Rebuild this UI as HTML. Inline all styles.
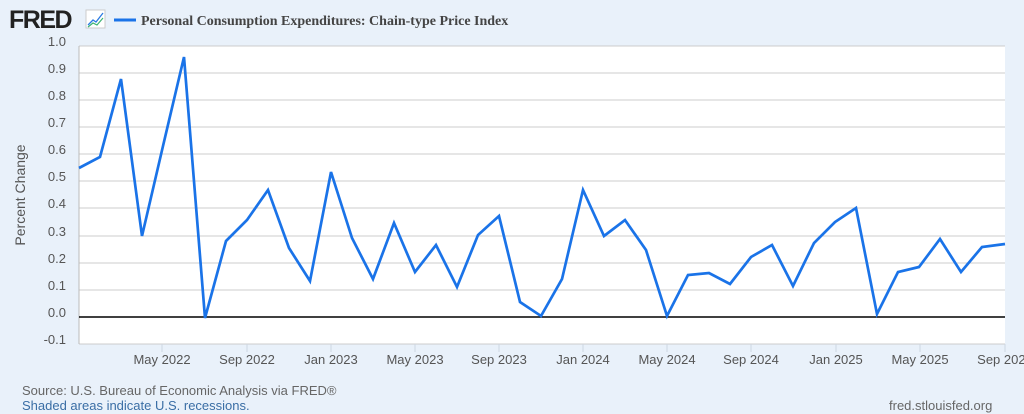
<!DOCTYPE html>
<html><head><meta charset="utf-8"><style>
html,body{margin:0;padding:0;width:1024px;height:414px;overflow:hidden;background:#e9f1fa;}
svg{display:block}
</style></head><body>
<svg width="1024" height="414" xmlns="http://www.w3.org/2000/svg" font-family="Liberation Sans, sans-serif">
<rect width="1024" height="414" fill="#e9f1fa"/>
<text x="9" y="28" font-size="25" font-weight="bold" fill="#222" letter-spacing="-1.5">FRED</text>
<rect x="86" y="10" width="19" height="18" fill="#fff" stroke="#ccc"/>
<polyline points="88,25 93,20 96,22 103,13" fill="none" stroke="#2a7ae2" stroke-width="1.3"/>
<polyline points="88,27 93,23 97,25 103,18" fill="none" stroke="#3cb371" stroke-width="1.2"/>
<line x1="114" y1="20" x2="136" y2="20" stroke="#1a73e8" stroke-width="3"/>
<text x="141" y="25" font-size="14" font-weight="bold" fill="#444" font-family="Liberation Serif, serif">Personal Consumption Expenditures: Chain-type Price Index</text>
<rect x="79" y="46" width="926" height="298" fill="#fff"/>
<g stroke="#ccc" stroke-width="1">
<line x1="79" y1="46" x2="1005" y2="46"/>
<line x1="79" y1="73" x2="1005" y2="73"/>
<line x1="79" y1="100" x2="1005" y2="100"/>
<line x1="79" y1="127" x2="1005" y2="127"/>
<line x1="79" y1="154" x2="1005" y2="154"/>
<line x1="79" y1="181" x2="1005" y2="181"/>
<line x1="79" y1="208" x2="1005" y2="208"/>
<line x1="79" y1="236" x2="1005" y2="236"/>
<line x1="79" y1="263" x2="1005" y2="263"/>
<line x1="79" y1="290" x2="1005" y2="290"/>
<line x1="79" y1="344" x2="1005" y2="344"/>
</g>
<line x1="79" y1="46" x2="79" y2="344" stroke="#bbb"/>
<line x1="79" y1="317" x2="1005" y2="317" stroke="#000" stroke-width="1.5"/>
<g stroke="#cdd6e2"><line x1="162" y1="344" x2="162" y2="352"/><line x1="247" y1="344" x2="247" y2="352"/><line x1="331" y1="344" x2="331" y2="352"/><line x1="415" y1="344" x2="415" y2="352"/><line x1="499" y1="344" x2="499" y2="352"/><line x1="583" y1="344" x2="583" y2="352"/><line x1="667" y1="344" x2="667" y2="352"/><line x1="751" y1="344" x2="751" y2="352"/><line x1="836" y1="344" x2="836" y2="352"/><line x1="920" y1="344" x2="920" y2="352"/><line x1="1005" y1="344" x2="1005" y2="352"/></g>
<g font-size="13" fill="#555" text-anchor="end">
<text x="66" y="46">1.0</text><text x="66" y="73">0.9</text><text x="66" y="100">0.8</text><text x="66" y="127">0.7</text><text x="66" y="154">0.6</text><text x="66" y="181">0.5</text><text x="66" y="208">0.4</text><text x="66" y="236">0.3</text><text x="66" y="263">0.2</text><text x="66" y="290">0.1</text><text x="66" y="317">0.0</text><text x="66" y="344">-0.1</text>
</g>
<text transform="translate(25,195) rotate(-90)" font-size="14" fill="#555" text-anchor="middle">Percent Change</text>
<g font-size="13" fill="#555" text-anchor="middle">
<text x="162" y="364">May 2022</text><text x="247" y="364">Sep 2022</text><text x="331" y="364">Jan 2023</text><text x="415" y="364">May 2023</text><text x="499" y="364">Sep 2023</text><text x="583" y="364">Jan 2024</text><text x="667" y="364">May 2024</text><text x="751" y="364">Sep 2024</text><text x="836" y="364">Jan 2025</text><text x="920" y="364">May 2025</text><text x="1005" y="364">Sep 2025</text>
</g>
<polyline fill="none" stroke="#1a73e8" stroke-width="2.7" stroke-linejoin="miter" points="79,168 100,157 121,79 142,236 163,146 184,57 205,318 226,241 247,220 268,190 289,248 310,281 331,172 352,238 373,279 394,223 415,272 436,245 457,287 478,235 499,216 520,302 541,316 562,279 583,190 604,236 625,220 646,250 667,316 688,275 709,273 730,284 751,257 772,245 793,286 814,243 835,222 856,208 877,314 898,272 919,267 940,239 961,272 982,247 1005,244"/>
<text x="22" y="395" font-size="13" fill="#666">Source: U.S. Bureau of Economic Analysis via FRED®</text>
<text x="22" y="410" font-size="13" fill="#3a6ea5">Shaded areas indicate U.S. recessions.</text>
<text x="889" y="410" font-size="13" fill="#666">fred.stlouisfed.org</text>
</svg>
</body></html>
